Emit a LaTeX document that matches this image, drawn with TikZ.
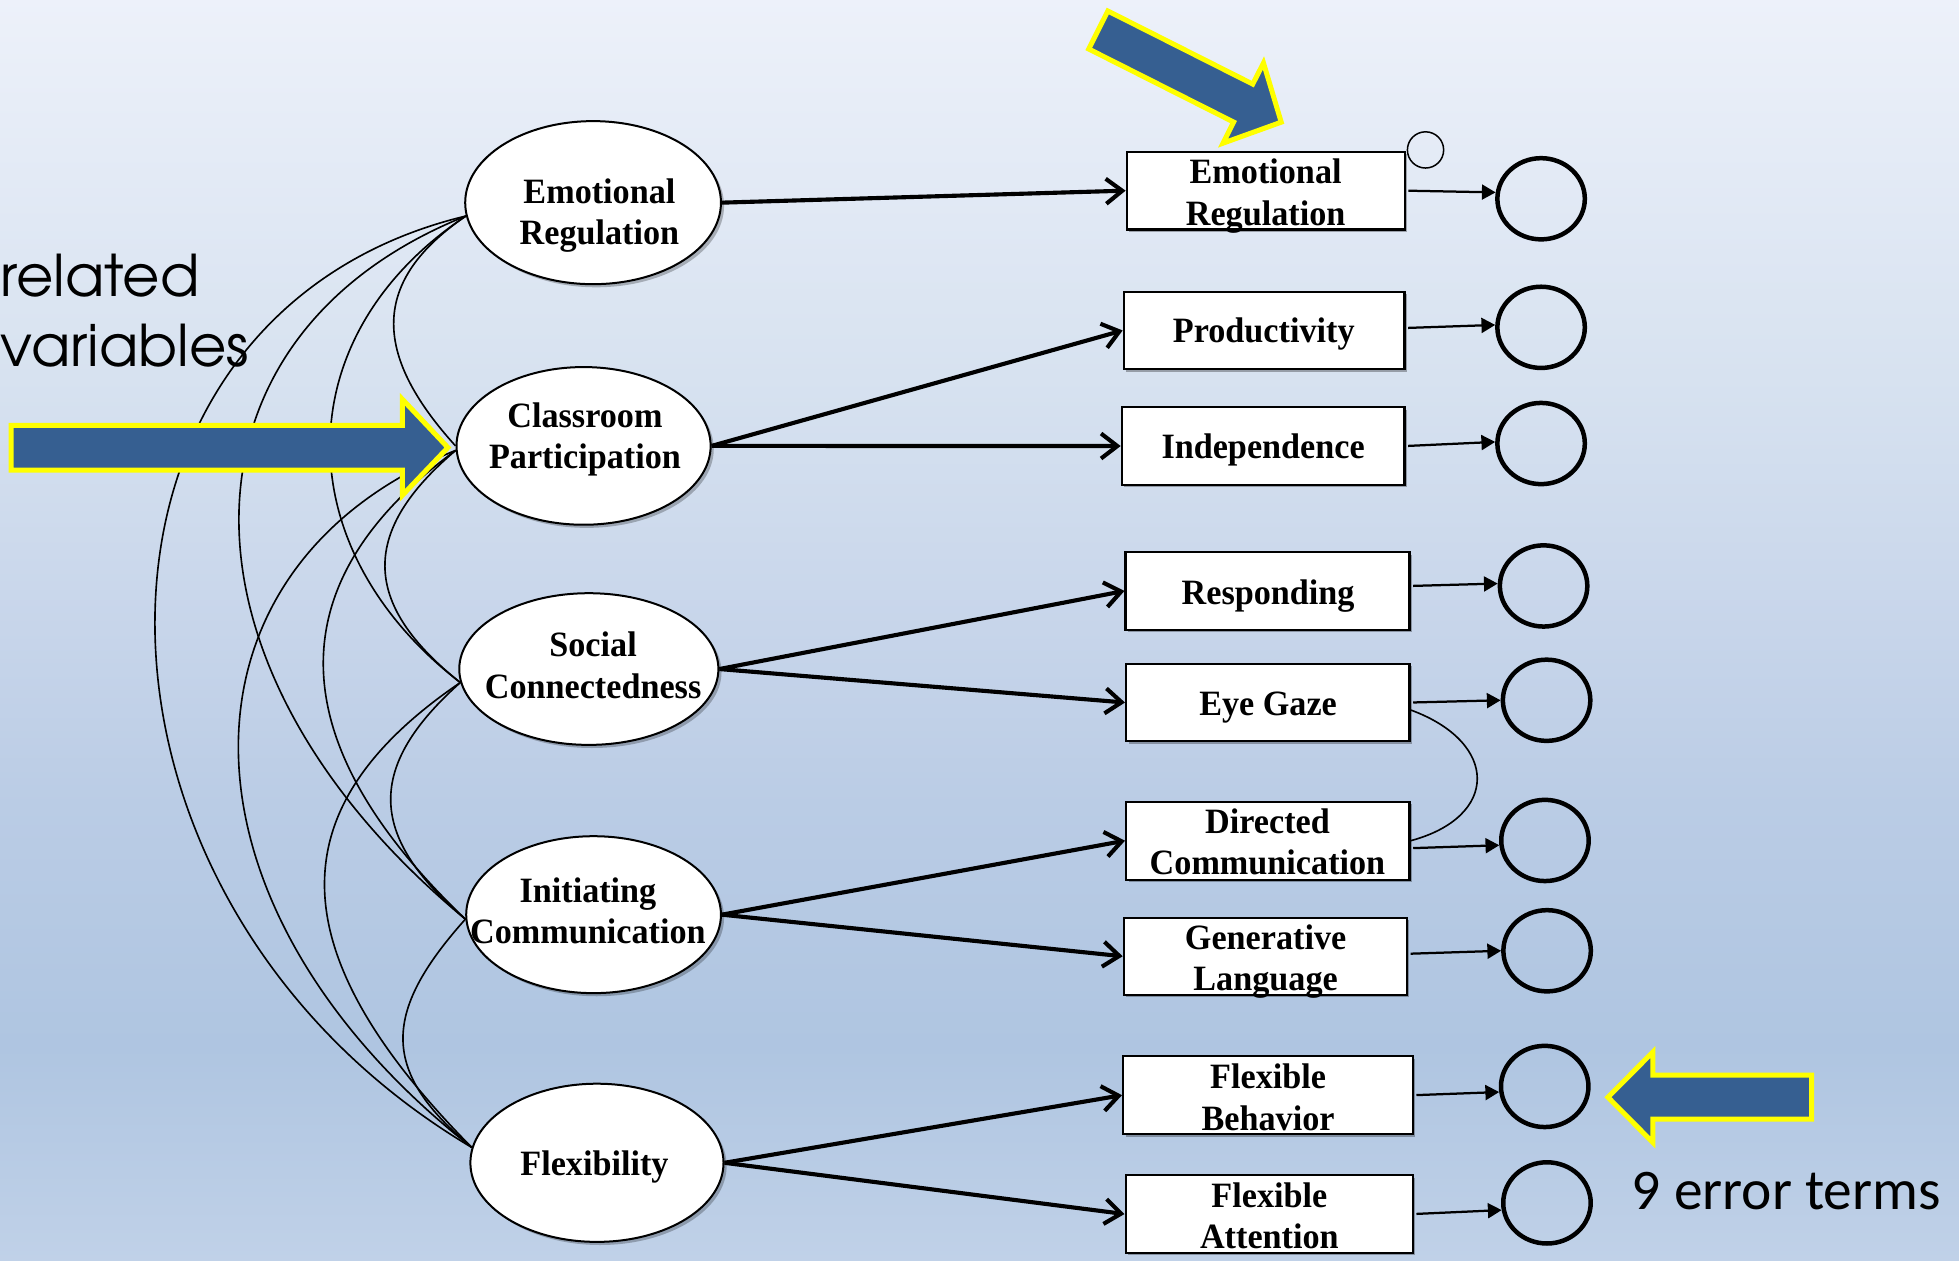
\documentclass[tikz,border=0pt]{standalone}
\usepackage{fontspec}
\setmainfont{Liberation Serif}
\newfontfamily\tnr{Liberation Serif}[FakeStretch=0.96]
\newfontfamily\gothic{texgyreadventor-regular.otf}
\newfontfamily\calibrifont{Carlito}
\usetikzlibrary{arrows.meta,shadows,shapes.geometric}

\definecolor{calloutblue}{RGB}{54,95,145}
\definecolor{calloutyellow}{RGB}{255,255,0}

% slide background, bottom to top (the path covers 25bp..75bp)
\pgfdeclareverticalshading{slidebg}{100bp}{
  rgb(0bp)=(0.753,0.820,0.910);
  rgb(25bp)=(0.753,0.820,0.910);
  rgb(33.5bp)=(0.686,0.773,0.882);
  rgb(43bp)=(0.729,0.800,0.898);
  rgb(50bp)=(0.780,0.835,0.918);
  rgb(60bp)=(0.843,0.886,0.941);
  rgb(75bp)=(0.929,0.945,0.980);
  rgb(100bp)=(0.929,0.945,0.980)}

\newcommand{\twolines}[2]{\begin{tabular}[t]{@{}c@{}}#1\\#2\end{tabular}}

\begin{document}
\begin{tikzpicture}[x=1pt,y=-1pt,
  latent/.style={ellipse, draw, line width=1.6pt, fill=white, inner sep=0pt,
    drop shadow={shadow xshift=2.5pt,shadow yshift=-2.5pt,opacity=0.25,fill=black}},
  obs/.style={rectangle, draw, line width=1.8pt, fill=white, inner sep=0pt,
    drop shadow={shadow xshift=2pt,shadow yshift=-2pt,opacity=0.3,fill=black}},
  err/.style={ellipse, draw, line width=3.6pt, inner sep=0pt,
    minimum width=70pt, minimum height=65pt},
  lbl/.style={font=\tnr\bfseries\fontsize{28.5}{33}\selectfont, anchor=base, inner sep=0pt},
  load/.style={line width=3.3pt, -{Straight Barb[length=13pt,width=20pt]}},
  res/.style={line width=1.8pt, -{Triangle[length=11pt,width=12pt]}, shorten <=2pt},
  cov/.style={line width=1.3pt},
  callout/.style={fill=calloutblue, draw=calloutyellow, line width=4pt},
  caption/.style={font=\gothic\fontsize{46}{56}\selectfont, anchor=base west, inner sep=0pt}
]
\useasboundingbox (0,0) rectangle (1568,1009);
\shade[shading=slidebg] (0,0) rectangle (1568,1009);

% side captions
\node[caption] (cap1) at (0.5,237.4) {related};
\node[caption] (cap2) at (0.5,293.5) {variables};
\node[font=\calibrifont\fontsize{46}{55}\selectfont, anchor=base west, inner sep=0pt] (cap3) at (1306,967.7) {9 error terms};

% latent factors
\node[latent, minimum width=204.7pt, minimum height=130.5pt] (er) at (474.7,162.2) {};
\node[latent, minimum width=203.4pt, minimum height=126.2pt] (cp) at (467.1,356.9) {};
\node[latent, minimum width=207.4pt, minimum height=121.4pt] (sc) at (471.3,535.5) {};
\node[latent, minimum width=203.9pt, minimum height=125.6pt] (ic) at (475.1,732.1) {};
\node[latent, minimum width=202.6pt, minimum height=126.6pt] (fl) at (477.8,930.7) {};

\node[lbl] (er-t) at (479.8,162.6) {\twolines{Emotional}{Regulation}};
\node[lbl] (cp-t) at (468.2,341.8) {\twolines{Classroom}{Participation}};
\node[lbl] (sc-t) at (474.7,525.8) {\twolines{Social}{Connectedness}};
\node[lbl] (ic-t) at (470.6,722.5) {\twolines{Initiating}{Communication}};
\node[lbl] (fl-t) at (475.8,940.8) {Flexibility};

% observed indicators
\node[obs, minimum width=222.5pt, minimum height=62.2pt] (b1) at (1013.1,152.6) {};
\node[obs, minimum width=224.6pt, minimum height=61.7pt] (b2) at (1011.8,264.5) {};
\node[obs, minimum width=226.2pt, minimum height=62.2pt] (b3) at (1011.0,357.0) {};
\node[obs, minimum width=227.2pt, minimum height=62.2pt] (b4) at (1014.5,473.0) {};
\node[obs, minimum width=226.9pt, minimum height=61.9pt] (b5) at (1014.8,562.3) {};
\node[obs, minimum width=226.9pt, minimum height=62.3pt] (dc) at (1014.8,672.9) {};
\node[obs, minimum width=226.6pt, minimum height=61.5pt] (gl) at (1012.8,765.4) {};
\node[obs, minimum width=231.9pt, minimum height=62.2pt] (fb) at (1014.9,876.6) {};
\node[obs, minimum width=229.9pt, minimum height=62.2pt] (fa) at (1015.9,971.7) {};

\node[lbl] (b1-t) at (1013,147.2) {\twolines{Emotional}{Regulation}};
\node[lbl] (b2-t) at (1011.5,274.5) {Productivity};
\node[lbl] (b3-t) at (1011,367) {Independence};
\node[lbl] (b4-t) at (1015,483.5) {Responding};
\node[lbl] (b5-t) at (1015,573) {Eye Gaze};
\node[lbl] (dc-t) at (1014.5,667) {\twolines{Directed}{Communication}};
\node[lbl] (gl-t) at (1013,760) {\twolines{Generative}{Language}};
\node[lbl] (fb-t) at (1015,871.5) {\twolines{Flexible}{Behavior}};
\node[lbl] (fa-t) at (1016,966.5) {\twolines{Flexible}{Attention}};

% error terms
\node[err] (e1) at (1233.5,159.1) {};
\node[err] (e2) at (1233.5,262.0) {};
\node[err] (e3) at (1233.5,355.0) {};
\node[err] (e4) at (1235.5,469.0) {};
\node[err] (e5) at (1237.9,560.5) {};
\node[err] (e6) at (1236.6,672.7) {};
\node[err] (e7) at (1238.3,761.0) {};
\node[err] (e8) at (1236.4,869.6) {};
\node[err] (e9) at (1238.2,962.8) {};
\node[circle, draw, line width=1.2pt, inner sep=0pt, minimum size=29pt] (s1) at (1141,120) {};

% loadings
\draw[load] (er.east) -- (b1.west);
\draw[load] (cp.east) -- (b2.west);
\draw[load] (cp.east) -- (b3.west);
\draw[load] (sc.east) -- (b4.west);
\draw[load] (sc.east) -- (b5.west);
\draw[load] (ic.east) -- (dc.west);
\draw[load] (ic.east) -- (gl.west);
\draw[load] (fl.east) -- (fb.west);
\draw[load] (fl.east) -- (fa.west);

% residual paths
\draw[res] (b1.east) -- (e1.172);
\draw[res] (b2.1) -- (e2.177);
\draw[res] (b3.east) -- (e3.178);
\draw[res] (b4.2) -- (e4.177);
\draw[res] (b5.east) -- (e5.west);
\draw[res] (dc.-3) -- (e6.186);
\draw[res] (gl.1.5) -- (e7.west);
\draw[res] (fb.east) -- (e8.187);
\draw[res] (fa.east) -- (e9.189);

% correlated residuals
\draw[cov] (b5.-3) .. controls +(71,26) and +(71,-19) .. (dc.east);

% factor covariances
\draw[cov] (er.186) .. controls +(-76,52) and +(-67,-74) .. (cp.180);
\draw[cov] (er.186) .. controls +(-144,96) and +(-140,-108) .. (sc.186);
\draw[cov] (er.186) .. controls +(-242,97) and +(-242,-200) .. (ic.182);
\draw[cov] (er.186) .. controls +(-333,80) and +(-337,-200) .. (fl.173);
\draw[cov] (cp.182) .. controls +(-75.5,64) and +(-80.5,-64) .. (sc.186);
\draw[cov] (cp.182) .. controls +(-142,104) and +(-151,-144) .. (ic.182);
\draw[cov] (cp.182) .. controls +(-234,94) and +(-247,-194) .. (fl.173);
\draw[cov] (sc.186) .. controls +(-75,67) and +(-79,-67) .. (ic.182);
\draw[cov] (sc.186) .. controls +(-147,100) and +(-155,-157) .. (fl.173);
\draw[cov] (ic.182) .. controls +(-68,76) and +(-72,-60) .. (fl.173);

% highlight arrows
\draw[callout] (9,340.5) -- (322,340.5) -- (322,319.5) -- (358.5,358.2)
  -- (322,396.5) -- (322,376.3) -- (9,376.3) -- cycle;
\draw[callout] (886.7,8.8) -- (1002.7,67.3) -- (1011.3,50.4) -- (1025.5,97.8)
  -- (978.9,114.6) -- (987.4,97.7) -- (871.4,39.2) -- cycle;
\draw[callout] (1450,860.5) -- (1323,860.5) -- (1323,842) -- (1287,878.2)
  -- (1323,914.5) -- (1323,895.8) -- (1450,895.8) -- cycle;
\end{tikzpicture}
\end{document}
